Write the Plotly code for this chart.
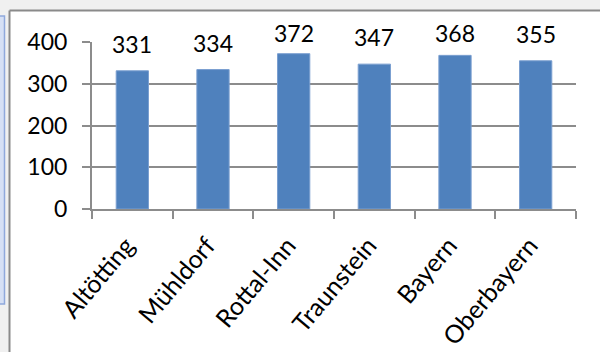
import plotly.graph_objects as go

# Data
regions = ["Altötting", "Mühldorf", "Rottal-Inn", "Traunstein", "Bayern", "Oberbayern"]
values = [331, 334, 372, 347, 368, 355]
y_ticks = [0, 100, 200, 300, 400]

W, H = 600, 352
L, R, T, B = 92, 576, 42, 209  # plot area in pixels


def px(x):
    return (x - L) / (R - L)


def py(y):
    return (B - y) / (B - T)


FONT = "Lato, 'Open Sans', sans-serif"
GRID = "#8c8c8c"
BAR = "#4f81bd"

fig = go.Figure()
fig.add_trace(go.Bar(
    x=regions, y=values,
    marker=dict(color=BAR, line=dict(color="#7a9fd0", width=1)),
    width=0.4,
    hoverinfo="x+y",
))

# value labels above the bars, kept inside the frame at the top
label_cap = 357
annotations = []
for r, v in zip(regions, values):
    annotations.append(dict(
        x=r, y=min(v, label_cap), xref="x", yref="y",
        text=str(v), showarrow=False, yshift=27, yanchor="middle",
        font=dict(family=FONT, size=23, color="#000000"),
    ))

shapes = [
    # window chrome around the chart frame
    dict(type="rect", xref="paper", yref="paper",
         x0=px(0), x1=px(W), y0=py(10), y1=py(0),
         fillcolor="#f0f0f0", line=dict(width=0), layer="below"),
    dict(type="rect", xref="paper", yref="paper",
         x0=px(0), x1=px(9), y0=py(H), y1=py(0),
         fillcolor="#f0f0f0", line=dict(width=0), layer="below"),
    dict(type="rect", xref="paper", yref="paper",
         x0=px(-2), x1=px(4.5), y0=py(304), y1=py(16),
         fillcolor="#d6e0f5", line=dict(color="#8fa8dc", width=1.5), layer="below"),
    dict(type="line", xref="paper", yref="paper",
         x0=px(9.5), x1=px(W), y0=py(10.5), y1=py(10.5),
         line=dict(color="#8a8a8a", width=2)),
    dict(type="line", xref="paper", yref="paper",
         x0=px(9.5), x1=px(9.5), y0=py(H), y1=py(10.5),
         line=dict(color="#8a8a8a", width=2)),
]

fig.update_layout(
    width=W, height=H,
    margin=dict(l=L, r=W - R, t=T, b=H - B, pad=0, autoexpand=False),
    paper_bgcolor="#ffffff", plot_bgcolor="#ffffff",
    showlegend=False,
    bargap=0.6,
    annotations=annotations,
    shapes=shapes,
    font=dict(family=FONT, size=22, color="#000000"),
)

fig.update_xaxes(
    type="category", tickangle=-50, automargin=False,
    showline=True, linecolor=GRID, linewidth=2,
    ticks="outside", ticklen=8, tickcolor=GRID, tickwidth=2,
    tickson="boundaries", showgrid=False,
    ticklabelstandoff=10, ticklabelshift=-6,
    tickfont=dict(family=FONT, size=25, color="#000000"),
)
fig.update_yaxes(
    range=[0, 400], tickvals=y_ticks, automargin=False,
    showline=True, linecolor=GRID, linewidth=2,
    ticks="outside", ticklen=8, tickcolor=GRID, tickwidth=2,
    showgrid=True, gridcolor=GRID, gridwidth=2,
    zeroline=False,
    ticklabelstandoff=10,
    tickfont=dict(family=FONT, size=23, color="#000000"),
)

fig.write_html("out.html")
